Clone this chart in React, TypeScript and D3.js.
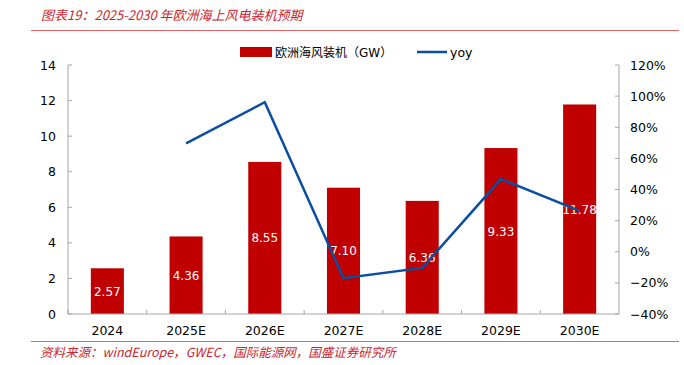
import React from "react";
import * as d3 from "d3";

// chart data
const years = ["2024", "2025E", "2026E", "2027E", "2028E", "2029E", "2030E"];
const capacity = [2.57, 4.36, 8.55, 7.1, 6.36, 9.33, 11.78];
const yoy = [null, 0.696, 0.961, -0.17, -0.104, 0.467, 0.263];
const leftTicks = [0, 2, 4, 6, 8, 10, 12, 14];
const rightTicks = [-0.4, -0.2, 0, 0.2, 0.4, 0.6, 0.8, 1.0, 1.2];

const title = "图表19：2025-2030 年欧洲海上风电装机预期";
const source = "资料来源：windEurope，GWEC，国际能源网，国盛证券研究所";
const barName = "欧洲海风装机（GW）";
const lineName = "yoy";

const W = 684;
const H = 365;
const font = "Tahoma, 'DejaVu Sans', 'Noto Sans CJK SC', sans-serif";
const red = "#c00000";
const blue = "#0a4ea2";
const axisGray = "#a6a6a6";
const titleRed = "#c9252f";

const App = () => {
  const left = 68;
  const right = 619;
  const top = 65;
  const bottom = 314;

  const x = d3.scaleBand().domain(years).range([left, right]).paddingInner(0.58).paddingOuter(0.29);
  const step = x.step();
  const yL = d3.scaleLinear().domain([0, 14]).range([bottom, top]);
  const yR = d3.scaleLinear().domain([-0.4, 1.2]).range([bottom, top]);

  const line = d3
    .line<number | null>()
    .defined((d) => d !== null)
    .x((d, i) => (x(years[i]) as number) + x.bandwidth() / 2)
    .y((d) => yR(d as number));

  const pct = d3.format(".0%");

  return (
    <svg width={W} height={H} style={{ position: "absolute", left: 0, top: 0, background: "#fff" }}>
      {/* title */}
      <text x={41} y={20} fill={titleRed} fontSize={13} fontStyle="italic" fontFamily="'Noto Sans CJK SC', sans-serif">
        {title}
      </text>
      <line x1={31} x2={679} y1={30.5} y2={30.5} stroke="#e06666" strokeWidth={1.2} />

      {/* legend */}
      <rect x={240} y={47} width={32} height={10} fill={red} />
      <text x={275} y={56.5} fontSize={12} fontFamily={font} fill="#000">{barName}</text>
      <line x1={417} x2={447} y1={52} y2={52} stroke={blue} strokeWidth={2.5} />
      <text x={450} y={56.5} fontSize={12.5} fontFamily={font} fill="#000">{lineName}</text>

      {/* left axis */}
      <line x1={left} x2={left} y1={top} y2={bottom} stroke={axisGray} />
      {leftTicks.map((t) => (
        <g key={"l" + t}>
          <line x1={left} x2={left + 4} y1={yL(t)} y2={yL(t)} stroke={axisGray} />
          <text x={56} y={yL(t) + 4.5} textAnchor="end" fontSize={12.5} fontFamily={font} fill="#000">
            {t}
          </text>
        </g>
      ))}

      {/* right axis */}
      <line x1={right} x2={right} y1={top} y2={bottom} stroke={axisGray} />
      {rightTicks.map((t) => (
        <g key={"r" + t}>
          <line x1={right - 4} x2={right} y1={yR(t)} y2={yR(t)} stroke={axisGray} />
          <text x={630} y={yR(t) + 4.5} textAnchor="start" fontSize={12.5} fontFamily={font} fill="#000">
            {pct(t)}
          </text>
        </g>
      ))}

      {/* bars */}
      {capacity.map((v, i) => {
        const bx = x(years[i]) as number;
        const by = yL(v);
        return (
          <g key={"b" + i}>
            <rect x={bx} y={by} width={x.bandwidth()} height={bottom - by} fill={red} />
            <text
              x={bx + x.bandwidth() / 2}
              y={(by + bottom) / 2 + 4.5}
              textAnchor="middle"
              fontSize={12}
              fontFamily={font}
              fill="#fff"
            >
              {v.toFixed(2)}
            </text>
          </g>
        );
      })}

      {/* x axis */}
      <line x1={left} x2={right} y1={bottom} y2={bottom} stroke={axisGray} />
      {years.map((yr, i) => (
        <g key={"x" + yr}>
          <line x1={left + step * i} x2={left + step * i} y1={bottom} y2={bottom - 4} stroke={axisGray} />
          <text
            x={(x(yr) as number) + x.bandwidth() / 2}
            y={335}
            textAnchor="middle"
            fontSize={12.5}
            fontFamily={font}
            fill="#000"
          >
            {yr}
          </text>
        </g>
      ))}

      {/* yoy line */}
      <path d={line(yoy) || ""} fill="none" stroke={blue} strokeWidth={2.5} strokeLinejoin="miter" />

      {/* source */}
      <line x1={31} x2={679} y1={341.5} y2={341.5} stroke="#e06666" strokeWidth={1.2} />
      <text x={40} y={357} fill={titleRed} fontSize={12.5} fontStyle="italic" fontFamily="'Noto Sans CJK SC', sans-serif">
        {source}
      </text>
    </svg>
  );
};

export default App;
